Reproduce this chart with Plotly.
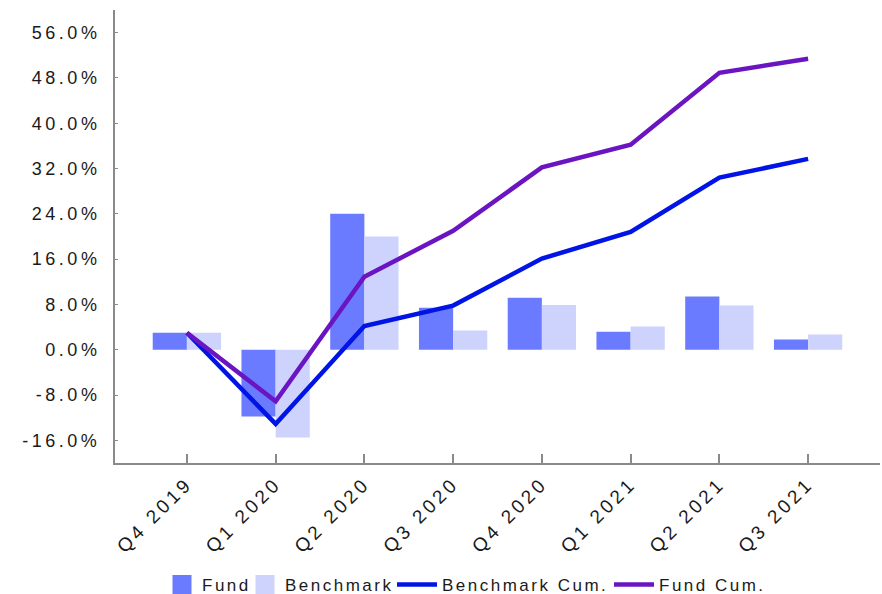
import plotly.graph_objects as go

quarters = ["Q4 2019", "Q1 2020", "Q2 2020", "Q3 2020", "Q4 2020", "Q1 2021", "Q2 2021", "Q3 2021"]
fund = [3.0, -11.8, 24.0, 7.4, 9.2, 3.2, 9.4, 1.8]
benchmark = [3.0, -15.5, 20.0, 3.4, 7.9, 4.1, 7.8, 2.7]
benchmark_cum = [3.0, -13.1, 4.2, 7.8, 16.1, 20.8, 30.4, 33.7]
fund_cum = [3.0, -9.1, 12.9, 21.0, 32.2, 36.2, 48.9, 51.4]
y_ticks = [-16, -8, 0, 8, 16, 24, 32, 40, 48, 56]

C_FUND = "#6B7BFF"
C_BENCH = "#CED3FD"
C_BCUM = "#0014E6"
C_FCUM = "#6A14C2"

fig = go.Figure()
fig.add_trace(go.Bar(x=quarters, y=fund, name="Fund", showlegend=False,
                     marker=dict(color=C_FUND, line=dict(width=0))))
fig.add_trace(go.Bar(x=quarters, y=benchmark, name="Benchmark", showlegend=False,
                     marker=dict(color=C_BENCH, line=dict(width=0))))
fig.add_trace(go.Scatter(x=quarters, y=benchmark_cum, name="Benchmark Cum.", mode="lines",
                         line=dict(color=C_BCUM, width=4.5), legend="legend3"))
fig.add_trace(go.Scatter(x=quarters, y=fund_cum, name="Fund Cum.", mode="lines",
                         line=dict(color=C_FCUM, width=4.5), legend="legend4"))
# legend-only entries for the bar series (larger square swatches)
fig.add_trace(go.Scatter(x=[None], y=[None], name="Fund", mode="markers", legend="legend",
                         marker=dict(symbol="square", size=16, color=C_FUND, line=dict(width=3, color=C_FUND))))
fig.add_trace(go.Scatter(x=[None], y=[None], name="Benchmark", mode="markers", legend="legend2",
                         marker=dict(symbol="square", size=16, color=C_BENCH, line=dict(width=3, color=C_BENCH))))

font = "Liberation Sans, Arial, sans-serif"
L, W = 115, 765
def px(x):
    return (x - L) / W

leg_y = (463 - 585) / 453
def leg(xpix, iw=30):
    return dict(orientation="h", x=px(xpix), xanchor="left", y=leg_y, yanchor="middle",
                font=dict(size=17, family=font, color="#1a1a1a"), itemwidth=iw,
                bgcolor="rgba(0,0,0,0)", borderwidth=0)

fig.update_layout(
    template="none",
    width=882, height=594,
    margin=dict(l=115, r=2, t=10, b=131, autoexpand=False),
    paper_bgcolor="white", plot_bgcolor="white",
    barmode="group", bargap=0.23, bargroupgap=0,
    font=dict(family=font, size=18, color="#1a1a1a"),
    showlegend=True,
    legend=leg(162),
    legend2=leg(245),
    legend3=leg(392, 40),
    legend4=leg(609, 40),
    xaxis=dict(range=[-0.81, 7.81], showgrid=False, showline=True, linecolor="#8a8a8a", linewidth=2,
               ticks="inside", ticklen=9, tickcolor="#8a8a8a", tickwidth=2, tickangle=-45,
               zeroline=False, automargin=False, tickfont=dict(size=19)),
    yaxis=dict(range=[-20, 60], tickvals=y_ticks, ticktext=[f"{v:.1f}%" for v in y_ticks],
               showgrid=False, showline=True, linecolor="#8a8a8a", linewidth=2,
               ticks="inside", ticklen=3, tickcolor="#8a8a8a", tickwidth=1, zeroline=False,
               automargin=False, ticklabelstandoff=9, tickfont=dict(size=18)),
)

post = """
document.body.style.margin = '0';
var s = document.createElement('style');
s.textContent = 'html, body {margin:0; padding:0;} '
  + '.ytick text {letter-spacing: 3.5px !important;} .xtick text {letter-spacing: 3.5px !important;} '
  + '.infolayer g[class*="legend"] text {letter-spacing: 2.5px !important;} '
  + '.infolayer g[class*="legend"], .infolayer g[class*="legend"] * {clip-path: none !important;}';
document.head.appendChild(s);
"""
fig.write_html("out.html", post_script=post, config={"displayModeBar": False})
